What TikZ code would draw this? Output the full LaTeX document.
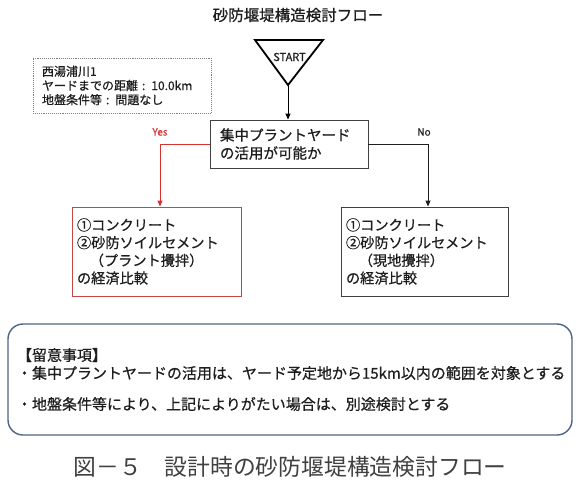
\documentclass[tikz,border=0pt]{standalone}
\usepackage{fontspec}
\setmainfont{Noto Sans CJK JP}[BoldFont=*, BoldFeatures={FakeBold=0.7}]
\usepackage{tikz}
\usetikzlibrary{arrows.meta,positioning,calc}
\definecolor{yesred}{RGB}{214,50,48}
\definecolor{boxred}{RGB}{196,72,70}
\definecolor{noteblue}{RGB}{78,98,132}
\definecolor{ink}{RGB}{30,30,30}

\begin{document}
\begin{tikzpicture}[x=1pt, y=-1pt,
  every node/.style={text=ink},
  box/.style={draw=ink!85, line width=0.9pt, align=left, inner ysep=0pt},
  arr/.style={-{Triangle[length=6pt,width=5pt]}, line width=0.9pt},
  lbl/.style={font=\fontsize{10}{12}\selectfont\bfseries}
]
\useasboundingbox (0,0) rectangle (580,483);

\node[font=\fontsize{15.5}{18}\selectfont\bfseries] (title) at (298,15) {砂防堰堤構造検討フロー};

\draw[line width=1.8pt, line join=miter] (255,40) -- (323,40) -- (288,85) -- cycle;
\coordinate (apex) at (288,85);
\node[font=\fontsize{11}{13}\selectfont\bfseries] (start) at (289.5,57) {START};

\node[box, draw=gray, densely dotted, line width=0.7pt, minimum width=178pt, minimum height=55pt,
  inner xsep=9pt, text width=160pt, font=\fontsize{12}{14.2}\selectfont\bfseries] (site) at (122,85.5)
  {西湯浦川1\\ヤードまでの距離 : 10.0km\\地盤条件等 : 問題なし};

\node[box, minimum width=158pt, minimum height=48pt, inner xsep=10pt, text width=138pt,
  font=\fontsize{14.5}{18}\selectfont\bfseries] (dec) at (289,144)
  {集中プラントヤード\\の活用が可能か};

\node[box, draw=boxred, minimum width=169pt, minimum height=89pt, inner xsep=5pt, text width=159pt,
  font=\fontsize{14.2}{17.7}\selectfont\bfseries] (plant) at (156.5,251.5)
  {①コンクリート\\②砂防ソイルセメント\\\hspace*{0.9em}（プラント攪拌）\\の経済比較};

\node[box, minimum width=167pt, minimum height=89pt, inner xsep=5pt, text width=157pt,
  font=\fontsize{14.2}{17.7}\selectfont\bfseries] (site2) at (424.5,251.5)
  {①コンクリート\\②砂防ソイルセメント\\\hspace*{0.9em}（現地攪拌）\\の経済比較};

\draw[arr] (apex) -- (apex |- dec.north);
\draw[arr, yesred] (dec.west) -| ([xshift=3.5pt]plant.north);
\draw[arr, ink] (dec.east) -| ([xshift=3.5pt]site2.north);
\node[lbl, text=yesred] (yes) at (160,132) {Yes};
\node[lbl] (no) at (424,132) {No};

\node[box, draw=noteblue, line width=1.4pt, rounded corners=15pt, minimum width=564pt, minimum height=111pt,
  inner xsep=9pt, text width=546pt, font=\fontsize{15}{18}\selectfont\bfseries] (note) at (290,379.5)
  {【留意事項】\\・集中プラントヤードの活用は、ヤード予定地から15km以内の範囲を対象とする\\[13pt]
   ・地盤条件等により、上記によりがたい場合は、別途検討とする};

\node[font=\fontsize{22.8}{26}\selectfont, text=ink!85] (caption) at (290,467)
  {図－５　設計時の砂防堰堤構造検討フロー};
\end{tikzpicture}
\end{document}
